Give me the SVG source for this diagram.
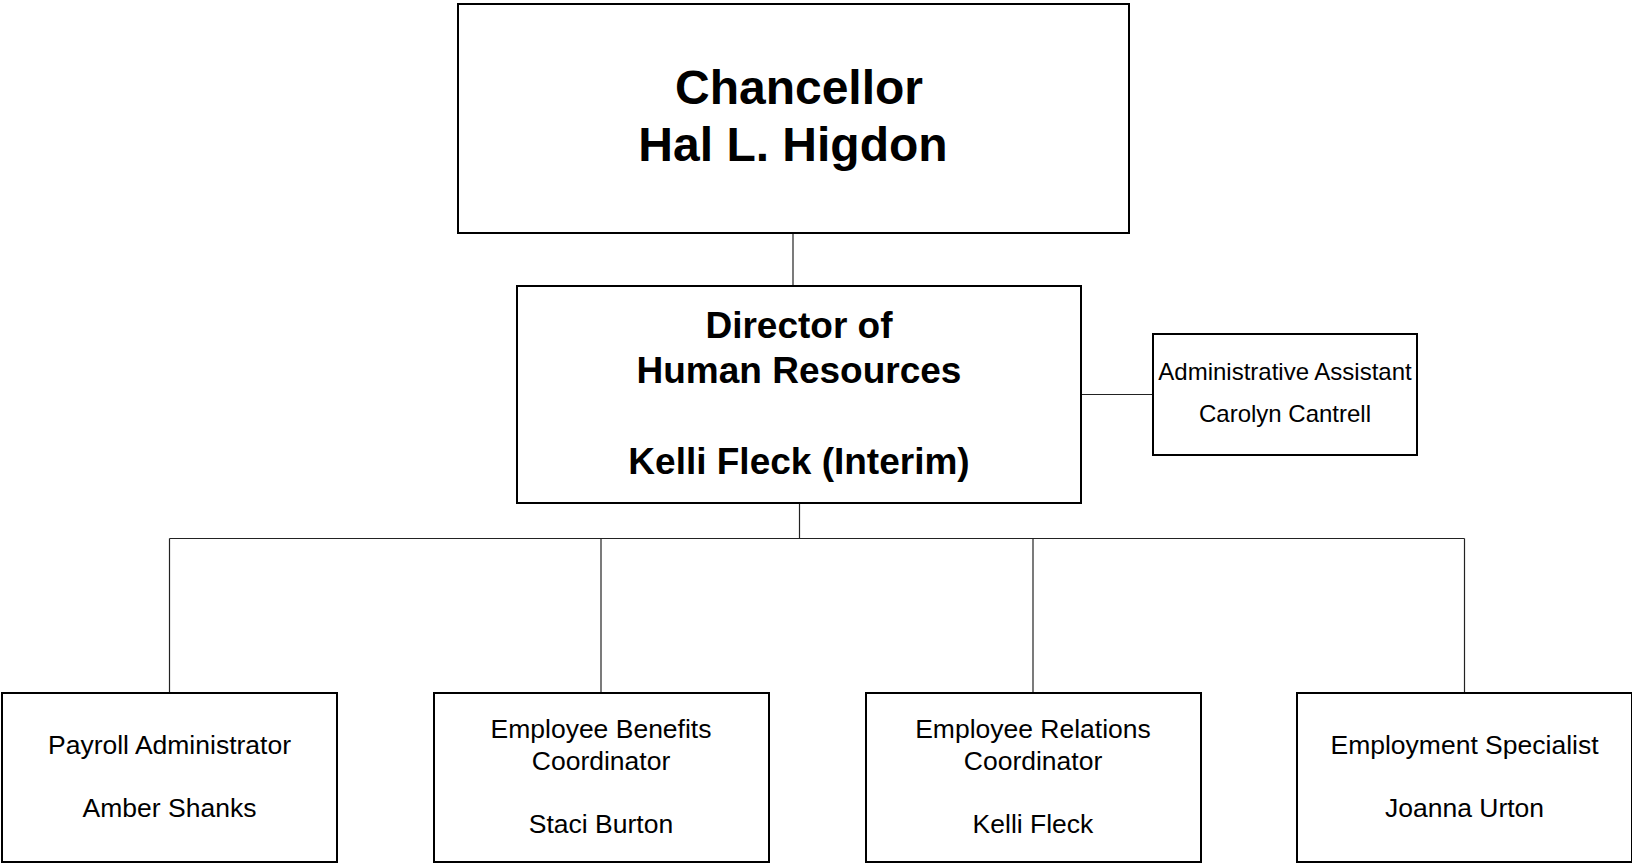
<svg xmlns="http://www.w3.org/2000/svg" width="1632" height="866" viewBox="0 0 1632 866">
<style>
.box{fill:#fff;stroke:#000;stroke-width:2}
.conn{stroke:#222;stroke-width:1.2;fill:none}
.b{font-family:"Liberation Sans",Arial,sans-serif;font-weight:bold;text-anchor:middle;fill:#000}
.r{font-family:"Liberation Sans",Arial,sans-serif;text-anchor:middle;fill:#000}
</style>
<rect width="1632" height="866" fill="#fff"/>
<g id="connectors">
<line class="conn" x1="793" y1="233" x2="793" y2="286"/>
<line class="conn" x1="1081" y1="394.5" x2="1153" y2="394.5"/>
<line class="conn" x1="799.5" y1="503" x2="799.5" y2="538.5"/>
<line class="conn" x1="169.5" y1="538.5" x2="1464.5" y2="538.5"/>
<line class="conn" x1="169.5" y1="538.5" x2="169.5" y2="693"/>
<line class="conn" x1="601" y1="538.5" x2="601" y2="693"/>
<line class="conn" x1="1033" y1="538.5" x2="1033" y2="693"/>
<line class="conn" x1="1464.5" y1="538.5" x2="1464.5" y2="693"/>
</g>
<g id="chancellor">
<rect class="box" x="458" y="4" width="671" height="229"/>
<text class="b" x="799" y="104" font-size="48">Chancellor</text>
<text class="b" x="793" y="161" font-size="48">Hal L. Higdon</text>
</g>
<g id="director">
<rect class="box" x="517" y="286" width="564" height="217"/>
<text class="b" x="799" y="338" font-size="37">Director of</text>
<text class="b" x="799" y="383" font-size="37">Human Resources</text>
<text class="b" x="799" y="474" font-size="37">Kelli Fleck (Interim)</text>
</g>
<g id="admin">
<rect class="box" x="1153" y="334" width="264" height="121"/>
<text class="r" x="1285" y="380" font-size="24">Administrative Assistant</text>
<text class="r" x="1285" y="422" font-size="24">Carolyn Cantrell</text>
</g>
<g id="payroll">
<rect class="box" x="2" y="693" width="335" height="169"/>
<text class="r" x="169.5" y="754" font-size="26.5">Payroll Administrator</text>
<text class="r" x="169.5" y="817" font-size="26.5">Amber Shanks</text>
</g>
<g id="benefits">
<rect class="box" x="434" y="693" width="335" height="169"/>
<text class="r" x="601" y="738" font-size="26.5">Employee Benefits</text>
<text class="r" x="601" y="770" font-size="26.5">Coordinator</text>
<text class="r" x="601" y="833" font-size="26.5">Staci Burton</text>
</g>
<g id="relations">
<rect class="box" x="866" y="693" width="335" height="169"/>
<text class="r" x="1033" y="738" font-size="26.5">Employee Relations</text>
<text class="r" x="1033" y="770" font-size="26.5">Coordinator</text>
<text class="r" x="1033" y="833" font-size="26.5">Kelli Fleck</text>
</g>
<g id="employment">
<rect class="box" x="1297" y="693" width="335" height="169"/>
<text class="r" x="1464.5" y="754" font-size="26.5">Employment Specialist</text>
<text class="r" x="1464.5" y="817" font-size="26.5">Joanna Urton</text>
</g>
</svg>
